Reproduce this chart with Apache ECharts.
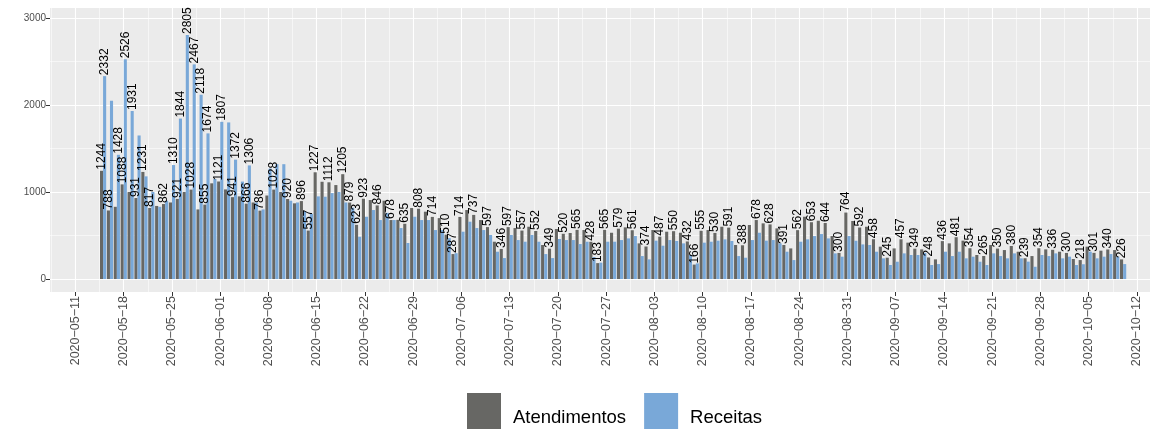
<!DOCTYPE html>
<html><head><meta charset="utf-8">
<script src="https://cdn.jsdelivr.net/npm/echarts@6/dist/echarts.min.js"></script>
<style>html,body{margin:0;padding:0;background:#fff}#c{width:1163px;height:429px}</style>
</head><body><div id="c"></div>
<script>
// ---- data ----
const startDate = '2020-05-15';
const atendimentos = [1244,788,830,1088,1000,931,1231,817,840,862,880,921,1000,1028,800,855,1100,1121,1030,941,950,866,880,786,960,1028,1000,920,870,896,557,1227,1118,1112,1080,1205,879,623,923,908,846,900,678,680,635,816,808,774,714,700,510,287,714,793,737,678,597,429,346,597,586,557,601,552,391,349,575,520,529,565,563,428,183,565,532,579,594,561,410,374,563,487,544,550,532,432,166,555,563,530,601,591,391,388,621,678,640,628,582,391,352,562,716,653,670,644,494,300,764,667,592,601,458,372,245,352,457,418,349,341,248,226,436,410,481,441,354,276,265,391,350,333,380,314,239,264,354,341,336,314,300,230,218,372,301,326,340,333,226];
const receitas = [2332,2050,1428,2526,1931,1650,1180,1000,830,900,1310,1844,2805,2467,2118,1674,1150,1807,1800,1372,1120,1306,880,800,1270,1320,1320,900,880,780,750,950,946,988,1000,880,820,486,716,793,678,760,678,586,414,716,678,678,563,563,470,297,544,659,586,563,506,314,241,506,448,429,506,429,287,241,460,448,448,402,429,253,188,429,429,448,467,494,264,226,441,383,448,437,410,276,180,418,429,441,456,437,264,245,448,532,441,448,410,314,218,429,456,494,517,467,295,257,494,440,398,391,314,238,161,199,295,276,276,300,161,172,314,264,314,238,257,199,161,295,264,238,295,238,200,141,276,264,295,238,257,161,170,314,238,257,287,257,172];
const atendLabel = [1,1,0,1,0,1,1,1,0,1,0,1,0,1,0,1,0,1,0,1,0,1,0,1,0,1,0,1,0,1,1,1,0,1,0,1,1,1,1,0,1,0,1,0,1,0,1,0,1,0,1,1,1,0,1,0,1,0,1,1,0,1,0,1,0,1,0,1,0,1,0,1,1,1,0,1,0,1,0,1,0,1,0,1,0,1,1,1,0,1,0,1,0,1,0,1,0,1,0,1,0,1,0,1,0,1,0,1,1,0,1,0,1,0,1,0,1,0,1,0,1,0,1,0,1,0,1,0,1,0,1,0,1,0,1,0,1,0,1,0,1,0,1,0,1,0,1,0,1];
const recLabel = [1,0,1,1,1,0,0,0,0,0,1,1,1,1,1,1,0,1,0,1,0,1,0,0,0,0,0,0,0,0,0,0,0,0,0,0,0,0,0,0,0,0,0,0,0,0,0,0,0,0,0,0,0,0,0,0,0,0,0,0,0,0,0,0,0,0,0,0,0,0,0,0,0,0,0,0,0,0,0,0,0,0,0,0,0,0,0,0,0,0,0,0,0,0,0,0,0,0,0,0,0,0,0,0,0,0,0,0,0,0,0,0,0,0,0,0,0,0,0,0,0,0,0,0,0,0,0,0,0,0,0,0,0,0,0,0,0,0,0,0,0,0,0,0,0,0,0,0,0];
const xTickLabels = ['2020-05-11','2020-05-18','2020-05-25','2020-06-01','2020-06-08','2020-06-15','2020-06-22','2020-06-29','2020-07-06','2020-07-13','2020-07-20','2020-07-27','2020-08-03','2020-08-10','2020-08-17','2020-08-24','2020-08-31','2020-09-07','2020-09-14','2020-09-21','2020-09-28','2020-10-05','2020-10-12'];
const yTicks = [0,1000,2000,3000];
const yMinorTicks = [500,1500,2500];

// ---- helpers ----
const DAY = 86400000;
const origin = Date.UTC(2020,4,11);
function dayIndex(s){const p=s.split('-').map(Number);return Math.round((Date.UTC(p[0],p[1]-1,p[2])-origin)/DAY);}
const startIdx = dayIndex(startDate);
const xs = atendimentos.map((_, i) => startIdx + i);
const xMajor = xTickLabels.map(dayIndex);
const xMinor = [xMajor[0]-3.5].concat(xMajor.slice(0,-1).map(v => v + 3.5));
const labelByIdx = {}; xTickLabels.forEach((l,i)=>{labelByIdx[xMajor[i]] = l.replace(/-/g,'\u2212');});

const XMIN = -3.7, XMAX = 155.9, YMIN = -149, YMAX = 3115;
const grey = '#676764', blue = '#79a8d8';
const FONT = 'Liberation Sans, Arial, sans-serif';

const labelStyle = {position:'top', rotate:90, align:'left', verticalAlign:'middle', distance:1,
  fontSize:12, color:'#000', fontFamily:FONT, formatter: p => p.value[1]};

const chart = echarts.init(document.getElementById('c'), null, {renderer:'canvas'});
chart.setOption({
  animation:false,
  backgroundColor:'#fff',
  textStyle:{fontFamily:FONT},
  grid:{left:50, right:13, top:8, bottom:137, show:true, backgroundColor:'#EBEBEB', borderWidth:0},
  xAxis:[
    {type:'value', min:XMIN, max:XMAX, position:'bottom',
     axisLine:{show:false, onZero:false},
     axisTick:{show:true, customValues:xMajor, length:4, lineStyle:{color:'#333', width:1}},
     axisLabel:{show:true, customValues:xMajor, rotate:90, fontSize:12.5, color:'#4D4D4D', margin:4,
       formatter: v => labelByIdx[Math.round(v)] || ''},
     splitLine:{show:true, lineStyle:{color:'#fff', width:1.1}}},
    {type:'value', min:XMIN, max:XMAX, position:'bottom', show:true,
     axisLine:{show:false, onZero:false}, axisTick:{show:false, customValues:xMinor}, axisLabel:{show:false, customValues:xMinor},
     splitLine:{show:true, lineStyle:{color:'#fff', width:0.55}}}
  ],
  yAxis:[
    {type:'value', min:YMIN, max:YMAX, position:'left',
     axisLine:{show:false, onZero:false},
     axisTick:{show:true, customValues:yTicks, length:4, lineStyle:{color:'#333', width:1}},
     axisLabel:{show:true, customValues:yTicks, fontSize:10, color:'#4D4D4D', margin:4, formatter: v => String(v)},
     splitLine:{show:true, lineStyle:{color:'#fff', width:1.1}}},
    {type:'value', min:YMIN, max:YMAX, position:'left',
     axisLine:{show:false, onZero:false}, axisTick:{show:false, customValues:yMinorTicks}, axisLabel:{show:false, customValues:yMinorTicks},
     splitLine:{show:true, lineStyle:{color:'#fff', width:0.55}}}
  ],
  legend:{top:393, left:467, padding:0, icon:'rect', itemWidth:34, itemHeight:50, itemGap:18,
    textStyle:{fontSize:18.5, color:'#000', padding:[0,0,0,7]}, data:['Atendimentos','Receitas']},
  series:[
    {name:'Atendimentos', type:'bar', xAxisIndex:0, yAxisIndex:0, barWidth:'45%', barGap:'0%',
     itemStyle:{color:grey}, label:labelStyle,
     data: xs.map((x,i)=>({value:[x, atendimentos[i]], label:{show:!!atendLabel[i]}}))},
    {name:'Receitas', type:'bar', xAxisIndex:0, yAxisIndex:0, barWidth:'45%', barGap:'0%',
     itemStyle:{color:blue}, label:labelStyle,
     data: xs.map((x,i)=>({value:[x, receitas[i]], label:{show:!!recLabel[i]}}))}
  ]
});
</script></body></html>
